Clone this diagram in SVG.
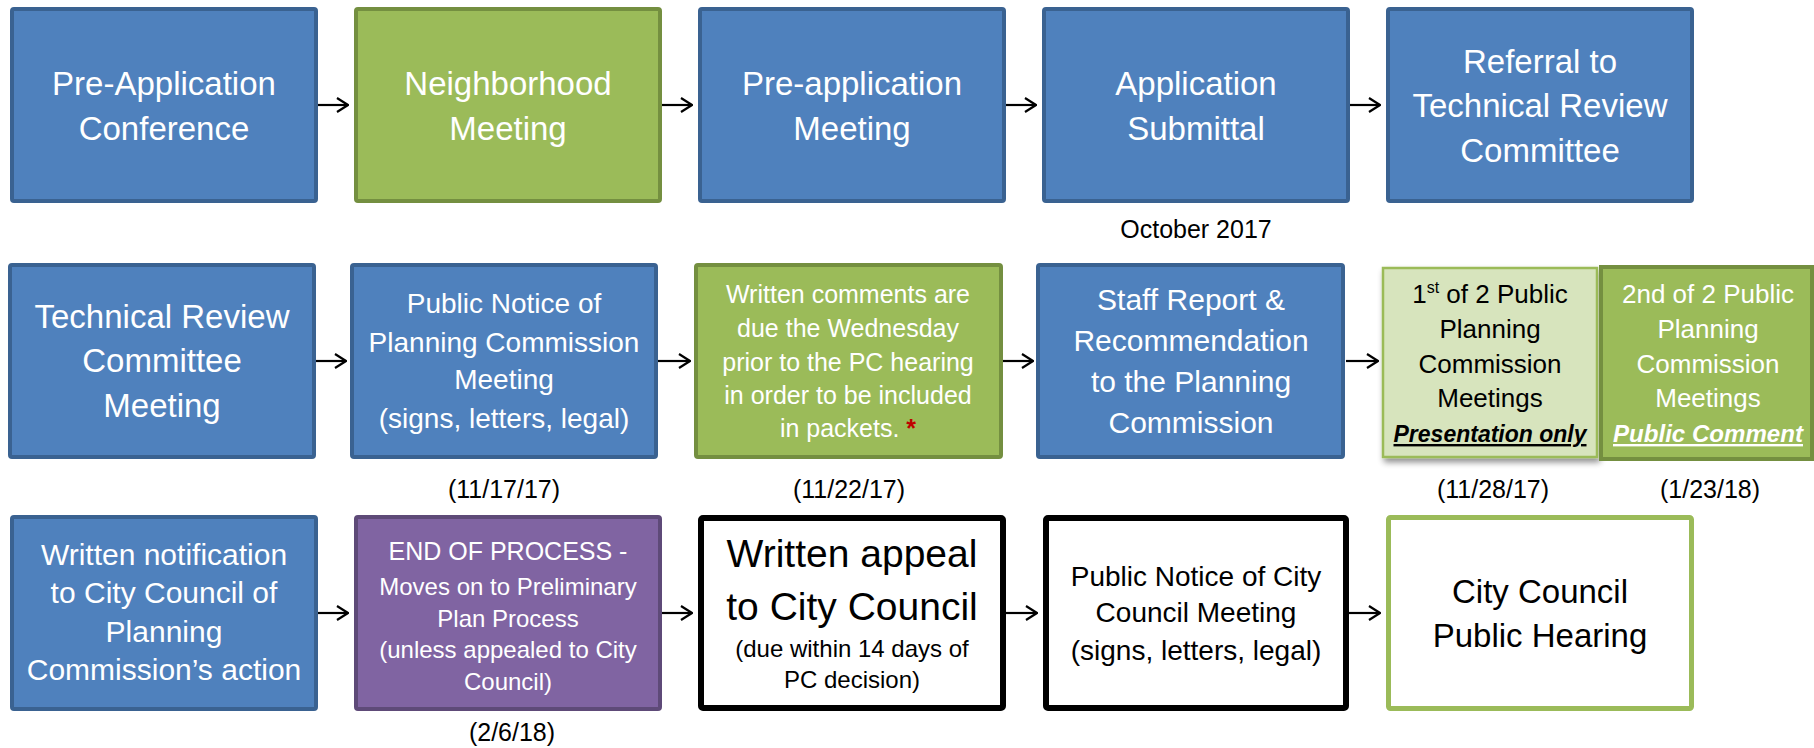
<svg xmlns="http://www.w3.org/2000/svg" width="1814" height="748" viewBox="0 0 1814 748">
<defs>
<style>
.blue{fill:#4F81BD;stroke:#3A6291;stroke-width:4}
.green{fill:#9BBB59;stroke:#748F40;stroke-width:4}
.purple{fill:#8064A2;stroke:#5E4A78;stroke-width:4}
.lgreen{fill:#D7E4BD;stroke:#9BBB59;stroke-width:2.5}
.black{fill:#FFFFFF;stroke:#000000;stroke-width:6}
.gout{fill:#FFFFFF;stroke:#9BBB59;stroke-width:5}
text{font-family:"Liberation Sans",Arial,sans-serif;text-anchor:middle}
.w{fill:#FFFFFF}
.k{fill:#000000}
.date{font-size:25px;fill:#000000}
.conn{stroke:#000000;stroke-width:2.2;fill:none}
</style>
<marker id="ah" viewBox="0 0 13 16" refX="12" refY="8" markerWidth="13" markerHeight="16" markerUnits="userSpaceOnUse" orient="auto">
<path d="M1,1 L12,8 L1,15" fill="none" stroke="#000000" stroke-width="2.2"/>
</marker>
<filter id="sh" x="-10%" y="-10%" width="125%" height="125%">
<feGaussianBlur in="SourceAlpha" stdDeviation="3"/>
<feOffset dx="2" dy="4" result="b"/>
<feComponentTransfer><feFuncA type="linear" slope="0.45"/></feComponentTransfer>
<feMerge><feMergeNode/><feMergeNode in="SourceGraphic"/></feMerge>
</filter>
</defs>
<rect width="1814" height="748" fill="#FFFFFF"/>

<g id="connectors">
<path class="conn" d="M318,105 H348" marker-end="url(#ah)"/>
<path class="conn" d="M662,105 H692" marker-end="url(#ah)"/>
<path class="conn" d="M1006,105 H1036" marker-end="url(#ah)"/>
<path class="conn" d="M1350,105 H1380" marker-end="url(#ah)"/>
<path class="conn" d="M316,361 H346" marker-end="url(#ah)"/>
<path class="conn" d="M658,361 H690" marker-end="url(#ah)"/>
<path class="conn" d="M1003,361 H1033" marker-end="url(#ah)"/>
<path class="conn" d="M1346,361 H1378" marker-end="url(#ah)"/>
<path class="conn" d="M318,613 H348" marker-end="url(#ah)"/>
<path class="conn" d="M662,613 H692" marker-end="url(#ah)"/>
<path class="conn" d="M1006,613 H1037" marker-end="url(#ah)"/>
<path class="conn" d="M1349,613 H1380" marker-end="url(#ah)"/>
</g>

<g id="n1">
<rect class="blue" x="12" y="9" width="304" height="192" rx="2"/>
<text class="w" font-size="33"><tspan x="164" y="95">Pre-Application</tspan><tspan x="164" y="140">Conference</tspan></text>
</g>
<g id="n2">
<rect class="green" x="356" y="9" width="304" height="192" rx="2"/>
<text class="w" font-size="33"><tspan x="508" y="95">Neighborhood</tspan><tspan x="508" y="140">Meeting</tspan></text>
</g>
<g id="n3">
<rect class="blue" x="700" y="9" width="304" height="192" rx="2"/>
<text class="w" font-size="33"><tspan x="852" y="95">Pre-application</tspan><tspan x="852" y="140">Meeting</tspan></text>
</g>
<g id="n4">
<rect class="blue" x="1044" y="9" width="304" height="192" rx="2"/>
<text class="w" font-size="33"><tspan x="1196" y="95">Application</tspan><tspan x="1196" y="140">Submittal</tspan></text>
<text class="date" x="1196" y="238">October 2017</text>
</g>
<g id="n5">
<rect class="blue" x="1388" y="9" width="304" height="192" rx="2"/>
<text class="w" font-size="33"><tspan x="1540" y="73">Referral to</tspan><tspan x="1540" y="117">Technical Review</tspan><tspan x="1540" y="162">Committee</tspan></text>
</g>

<g id="n6">
<rect class="blue" x="10" y="265" width="304" height="192" rx="2"/>
<text class="w" font-size="33"><tspan x="162" y="328">Technical Review</tspan><tspan x="162" y="372">Committee</tspan><tspan x="162" y="417">Meeting</tspan></text>
</g>
<g id="n7">
<rect class="blue" x="352" y="265" width="304" height="192" rx="2"/>
<text class="w" font-size="28"><tspan x="504" y="313">Public Notice of</tspan><tspan x="504" y="352">Planning Commission</tspan><tspan x="504" y="389">Meeting</tspan><tspan x="504" y="428">(signs, letters, legal)</tspan></text>
<text class="date" x="504" y="498">(11/17/17)</text>
</g>
<g id="n8">
<rect class="green" x="696" y="265" width="305" height="192" rx="2"/>
<text class="w" font-size="25"><tspan x="848" y="303">Written comments are</tspan><tspan x="848" y="337">due the Wednesday</tspan><tspan x="848" y="371">prior to the PC hearing</tspan><tspan x="848" y="404">in order to be included</tspan><tspan x="848" y="437">in packets. <tspan fill="#C00000" font-weight="bold">*</tspan></tspan></text>
<text class="date" x="849" y="498">(11/22/17)</text>
</g>
<g id="n9">
<rect class="blue" x="1038" y="265" width="305" height="192" rx="2"/>
<text class="w" font-size="30"><tspan x="1191" y="310">Staff Report &amp;</tspan><tspan x="1191" y="351">Recommendation</tspan><tspan x="1191" y="392">to the Planning</tspan><tspan x="1191" y="433">Commission</tspan></text>
</g>
<g id="n10">
<rect class="lgreen" x="1383" y="268" width="214" height="189" filter="url(#sh)"/>
<text class="k" font-size="26"><tspan x="1490" y="303">1<tspan font-size="16" dy="-10">st</tspan><tspan dy="10"> of 2 Public</tspan></tspan><tspan x="1490" y="338">Planning</tspan><tspan x="1490" y="373">Commission</tspan><tspan x="1490" y="407">Meetings</tspan></text>
<text class="k" font-size="24" font-weight="bold" font-style="italic" text-decoration="underline" x="1490" y="442" textLength="193" lengthAdjust="spacingAndGlyphs">Presentation only</text>
<text class="date" x="1493" y="498">(11/28/17)</text>
</g>
<g id="n11">
<rect class="green" x="1601" y="267" width="211" height="192"/>
<text class="w" font-size="26"><tspan x="1708" y="303">2nd of 2 Public</tspan><tspan x="1708" y="338">Planning</tspan><tspan x="1708" y="373">Commission</tspan><tspan x="1708" y="407">Meetings</tspan></text>
<text class="w" font-size="24" font-weight="bold" font-style="italic" text-decoration="underline" x="1708" y="442" textLength="190" lengthAdjust="spacingAndGlyphs">Public Comment</text>
<text class="date" x="1710" y="498">(1/23/18)</text>
</g>

<g id="n12">
<rect class="blue" x="12" y="517" width="304" height="192" rx="2"/>
<text class="w" font-size="30"><tspan x="164" y="565">Written notification</tspan><tspan x="164" y="603">to City Council of</tspan><tspan x="164" y="642">Planning</tspan><tspan x="164" y="680">Commission’s action</tspan></text>
</g>
<g id="n13">
<rect class="purple" x="356" y="517" width="304" height="192" rx="2"/>
<text class="w" font-size="24"><tspan x="508" y="560" font-size="25">END OF PROCESS -</tspan><tspan x="508" y="595">Moves on to Preliminary</tspan><tspan x="508" y="627">Plan Process</tspan><tspan x="508" y="658">(unless appealed to City</tspan><tspan x="508" y="690">Council)</tspan></text>
<text class="date" x="512" y="741">(2/6/18)</text>
</g>
<g id="n14">
<rect class="black" x="701" y="518" width="302" height="190" rx="2"/>
<text class="k" font-size="39"><tspan x="852" y="567">Written appeal</tspan><tspan x="852" y="620">to City Council</tspan></text>
<text class="k" font-size="24"><tspan x="852" y="657">(due within 14 days of</tspan><tspan x="852" y="688">PC decision)</tspan></text>
</g>
<g id="n15">
<rect class="black" x="1046" y="518" width="300" height="190" rx="2"/>
<text class="k" font-size="28"><tspan x="1196" y="586">Public Notice of City</tspan><tspan x="1196" y="622">Council Meeting</tspan><tspan x="1196" y="660">(signs, letters, legal)</tspan></text>
</g>
<g id="n16">
<rect class="gout" x="1388.5" y="517.5" width="303" height="191" rx="2"/>
<text class="k" font-size="33"><tspan x="1540" y="603">City Council</tspan><tspan x="1540" y="647">Public Hearing</tspan></text>
</g>
</svg>
